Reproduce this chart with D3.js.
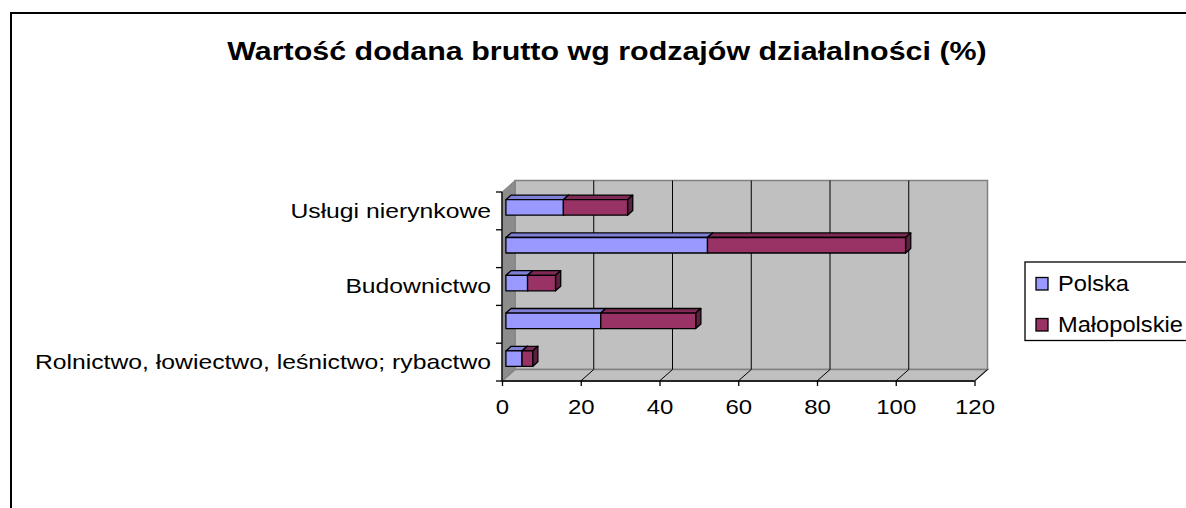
<!DOCTYPE html>
<html>
<head>
<meta charset="utf-8">
<script src="https://cdn.jsdelivr.net/npm/d3@7"></script>
<style>
  body { margin: 0; background: #fff; }
  svg { display: block; font-family: Arial, "Liberation Sans", sans-serif; }
  .axis path.domain { display: none; }
  .axis text { fill: #000; }
</style>
</head>
<body>
<svg width="1186" height="508"></svg>
<script>
// data (values in %)
var categories = ["Rolnictwo, łowiectwo, leśnictwo; rybactwo", "Przemysł", "Budownictwo", "Usługi rynkowe", "Usługi nierynkowe"];
var polska = [4.1, 24.1, 5.5, 51.2, 14.6];
var malopolskie = [2.7, 24.1, 7.1, 50.3, 16.3];
var seriesNames = ["Polska", "Małopolskie"];
var xTicks = [0, 20, 40, 60, 80, 100, 120];
var titleText = "Wartość dodana brutto wg rodzajów działalności (%)";

var colors = {
  Polska: { front: "#9999ff", top: "#7f7fd6", side: "#6666b3" },
  "Małopolskie": { front: "#993366", top: "#7f2a55", side: "#5e1f40" }
};

var svg, x, y, depth, plot;

svg = d3.select("svg");

// chart frame, runs off the right and bottom edge like the original
svg.append("rect")
  .attr("x", 11).attr("y", 13)
  .attr("width", 1300).attr("height", 600)
  .attr("fill", "#fff").attr("stroke", "#000").attr("stroke-width", 2);

x = d3.scaleLinear().domain([0, 120]).range([502, 974.5]);
y = d3.scaleBand().domain(categories).range([381, 192])
  .paddingInner(0.59).paddingOuter(0.295);

// 3d depth vector of the plot box
depth = [13, -11.5];

function shift(p, t) {
  return [p[0] + depth[0] * t, p[1] + depth[1] * t];
}
function poly(pts) {
  return "M" + pts.map(function(p) { return p.join(","); }).join("L") + "Z";
}
// widen text sideways (the original image is stretched)
function widen(sel, factor) {
  sel.each(function() {
    var len = this.getComputedTextLength();
    if (len > 0) {
      d3.select(this).attr("textLength", len * factor).attr("lengthAdjust", "spacingAndGlyphs");
    }
  });
}

plot = svg.append("g");

var x0 = x.range()[0], x1 = x.range()[1];
var yTop = y.range()[1], yBot = y.range()[0];

// back wall
plot.append("path")
  .attr("d", poly([shift([x0, yTop], 1), shift([x1, yTop], 1), shift([x1, yBot], 1), shift([x0, yBot], 1)]))
  .attr("fill", "#c0c0c0").attr("stroke", "#808080").attr("stroke-width", 1.5);

// left side wall
plot.append("path")
  .attr("d", poly([[x0, yTop], shift([x0, yTop], 1), shift([x0, yBot], 1), [x0, yBot]]))
  .attr("fill", "#8c8c8c").attr("stroke", "#808080");

// floor
plot.append("path")
  .attr("d", poly([[x0, yBot], [x1, yBot], shift([x1, yBot], 1), shift([x0, yBot], 1)]))
  .attr("fill", "#c0c0c0").attr("stroke", "#808080").attr("stroke-width", 1.5);

// gridlines on back wall and floor
plot.selectAll(".grid-wall").data(xTicks.slice(1, -1)).enter().append("line")
  .attr("class", "grid-wall")
  .attr("x1", function(d) { return shift([x(d), yTop], 1)[0]; })
  .attr("x2", function(d) { return shift([x(d), yBot], 1)[0]; })
  .attr("y1", shift([0, yTop], 1)[1])
  .attr("y2", shift([0, yBot], 1)[1])
  .attr("stroke", "#000").attr("stroke-width", 1);

plot.selectAll(".grid-floor").data(xTicks.slice(1)).enter().append("line")
  .attr("class", "grid-floor")
  .attr("x1", function(d) { return x(d); })
  .attr("y1", yBot)
  .attr("x2", function(d) { return shift([x(d), yBot], 1)[0]; })
  .attr("y2", shift([0, yBot], 1)[1])
  .attr("stroke", "#000").attr("stroke-width", 1);

// stacked 3d bars
var stackData = categories.map(function(c, i) {
  return { cat: c, Polska: polska[i], "Małopolskie": malopolskie[i] };
});
var stacked = d3.stack().keys(seriesNames)(stackData);

var tFront = 0.3, tBack = 0.7;

stacked.forEach(function(layer) {
  var col = colors[layer.key];
  var g = plot.append("g").attr("class", "series");
  layer.forEach(function(d) {
    var yb = y(d.data.cat), h = y.bandwidth();
    var a = shift([x(d[0]), yb], tFront), b = shift([x(d[1]), yb], tFront);
    var c = shift([x(d[1]), yb + h], tFront), e = shift([x(d[0]), yb + h], tFront);
    var a2 = shift([x(d[0]), yb], tBack), b2 = shift([x(d[1]), yb], tBack);
    var c2 = shift([x(d[1]), yb + h], tBack);
    g.append("path").attr("d", poly([a, b, b2, a2]))
      .attr("fill", col.top).attr("stroke", "#000").attr("stroke-width", 1.3).attr("stroke-linejoin", "round");
    g.append("path").attr("d", poly([b, b2, c2, c]))
      .attr("fill", col.side).attr("stroke", "#000").attr("stroke-width", 1.3).attr("stroke-linejoin", "round");
    g.append("path").attr("d", poly([a, b, c, e]))
      .attr("fill", col.front).attr("stroke", "#000").attr("stroke-width", 1.3).attr("stroke-linejoin", "round");
  });
});

// axis lines
plot.append("line")
  .attr("x1", x0).attr("x2", x0).attr("y1", yTop).attr("y2", yBot)
  .attr("stroke", "#000").attr("stroke-width", 1.3);
plot.append("line")
  .attr("x1", x0).attr("x2", x1).attr("y1", yBot).attr("y2", yBot)
  .attr("stroke", "#000").attr("stroke-width", 1.3);

// category boundary ticks
plot.selectAll(".ytick").data(d3.range(categories.length + 1)).enter().append("line")
  .attr("class", "ytick")
  .attr("x1", x0 - 6).attr("x2", x0)
  .attr("y1", function(i) { return yBot - i * y.step(); })
  .attr("y2", function(i) { return yBot - i * y.step(); })
  .attr("stroke", "#000").attr("stroke-width", 1.3);

// x axis
var xAxis = plot.append("g").attr("class", "axis x-axis")
  .attr("transform", "translate(0," + yBot + ")")
  .call(d3.axisBottom(x).tickValues(xTicks).tickSize(5).tickPadding(13));
xAxis.selectAll("line").attr("stroke", "#000").attr("stroke-width", 1.3);
xAxis.selectAll("text").style("font-size", "21px").style("font-family", null);
widen(xAxis.selectAll("text"), 1.14);

// y axis labels, every second category like the original
var yAxis = plot.append("g").attr("class", "axis y-axis")
  .attr("transform", "translate(" + x0 + ",0)")
  .call(d3.axisLeft(y).tickSize(0).tickPadding(11)
    .tickFormat(function(d, i) { return i % 2 === 0 ? d : ""; }));
yAxis.selectAll("text").style("font-size", "21px").style("font-family", null);
widen(yAxis.selectAll("text"), 1.177);

// title
var title = svg.append("text")
  .attr("x", 607).attr("y", 60)
  .attr("text-anchor", "middle")
  .style("font-size", "26px").style("font-weight", "bold")
  .text(titleText);
widen(title, 1.17);

// legend
var legend = svg.append("g").attr("transform", "translate(1025,262)");
legend.append("rect")
  .attr("width", 300).attr("height", 78.5)
  .attr("fill", "#fff").attr("stroke", "#000").attr("stroke-width", 1.3);
var li = legend.selectAll(".item").data(seriesNames).enter().append("g")
  .attr("class", "item")
  .attr("transform", function(d, i) { return "translate(11," + (15.5 + i * 41) + ")"; });
li.append("rect").attr("width", 12).attr("height", 12.5)
  .attr("fill", function(d) { return colors[d].front; })
  .attr("stroke", "#000").attr("stroke-width", 1.3);
var legendText = li.append("text").attr("x", 22).attr("y", 13.5)
  .style("font-size", "21.5px")
  .text(function(d) { return d; });
widen(legendText, 1.1);
</script>
</body>
</html>
